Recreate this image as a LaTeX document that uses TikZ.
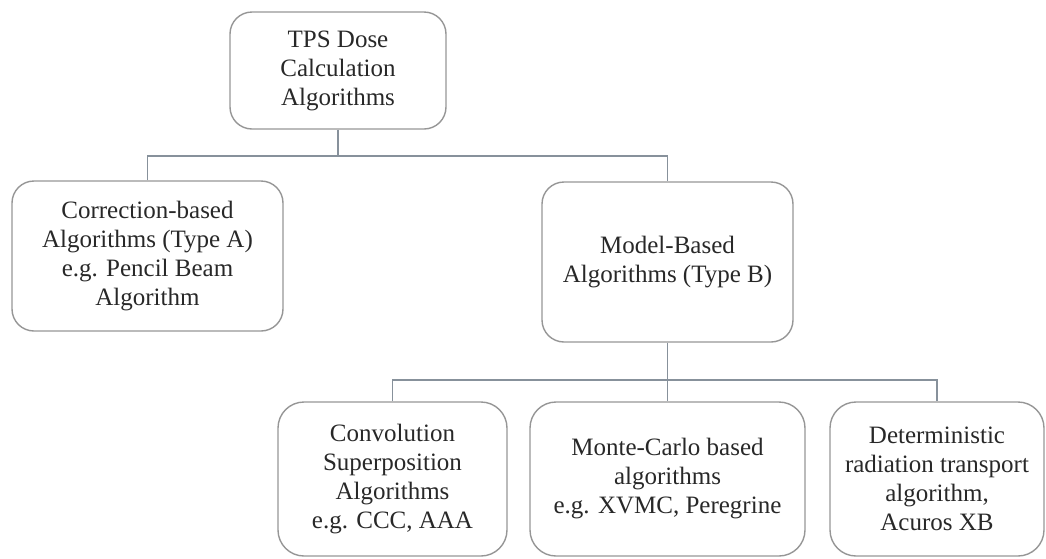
\documentclass[tikz,border=0pt]{standalone}
\usepackage{fontspec}
\setmainfont{Liberation Serif}
\usepackage{tikz}
\usetikzlibrary{positioning}

\definecolor{boxgray}{RGB}{150,150,150}
\definecolor{linegray}{RGB}{135,145,155}
\definecolor{txtgray}{RGB}{40,40,40}

\tikzset{
    algbox/.style={draw=boxgray, line width=0.7pt, rounded corners=11pt,
        align=center, text=txtgray, inner sep=2pt,
        font=\fontsize{12.5}{14.5}\selectfont},
    link/.style={draw=linegray, line width=0.6pt},
}

\begin{document}
\begin{tikzpicture}[x=0.5pt, y=-0.5pt]
            \useasboundingbox (0, 0) rectangle (1046, 558);

            \node[algbox, minimum width=108pt, minimum height=58.5pt] (tps) at (338, 70.5) {TPS Dose\\Calculation\\Algorithms};
            \node[algbox, minimum width=135.5pt, minimum height=75pt] (corr) at (147.5, 256) {Correction-based\\Algorithms (Type A)\\e.g. Pencil Beam\\Algorithm};
            \node[algbox, minimum width=125.5pt, minimum height=80pt] (model) at (667.5, 262) {Model-Based\\Algorithms (Type B)};
            \node[algbox, minimum width=114.5pt, minimum height=77pt, rounded corners=13pt] (conv) at (392.5, 479) {Convolution\\Superposition\\Algorithms\\e.g. CCC, AAA};
            \node[algbox, minimum width=137.5pt, minimum height=77pt, rounded corners=13pt] (monte) at (667.5, 479) {Monte-Carlo based\\algorithms\\e.g. XVMC, Peregrine};
            \node[algbox, minimum width=107pt, minimum height=77pt, rounded corners=13pt] (determ) at (937, 479) {Deterministic\\radiation transport\\algorithm,\\Acuros XB};

            \coordinate (j1) at (338, 156);
            \coordinate (j2) at (667.5, 380);
            \draw[link] (tps.south) -- (j1);
            \draw[link] (corr.north) |- (j1) -| (model.north);
            \draw[link] (model.south) -- (j2);
            \draw[link] (conv.north) |- (j2) -| (determ.north);
            \draw[link] (j2) -- (monte.north);
        \end{tikzpicture}
\end{document}
